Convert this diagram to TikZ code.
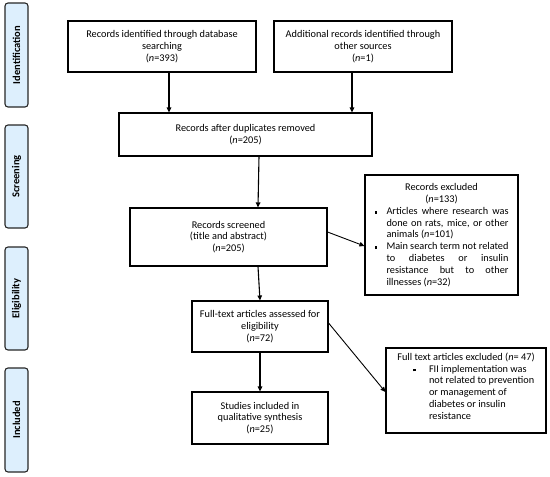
\documentclass[tikz,border=0pt]{standalone}
\usepackage{fontspec}
\setmainfont{Carlito}
\usetikzlibrary{arrows.meta,calc}
\definecolor{phasefill}{HTML}{DDEFFD}
\newcommand{\sqb}{\rule[0.6pt]{2.8pt}{2.8pt}}
\newcommand{\myleftlabel}[1]{#1\hfil}
\begin{document}
\begin{tikzpicture}[x=1pt,y=-1pt,
  every node/.style={font=\fontsize{10.3}{11.8}\selectfont, inner sep=0pt},
  flowbox/.style={draw, line width=1.1pt, rectangle, align=center},
  phase/.style={draw=black!85, line width=1.1pt, fill=phasefill, rounded corners=3pt,
    minimum width=23pt},
  plabel/.style={rotate=90, font=\fontsize{10.5}{11}\selectfont\bfseries},
  arr/.style={line width=1.1pt, -{Triangle[length=5pt,width=4.5pt]}},
  thinarr/.style={line width=0.9pt, -{Triangle[length=5pt,width=4.5pt]}}]
\useasboundingbox (0,0) rectangle (550,477);

% phase boxes
\node[phase, minimum height=104pt] (p1) at (16.5,55) {};
\node[plabel] (p1t) at (p1.center) {Identification};
\node[phase, minimum height=103pt] (p2) at (16.5,176.5) {};
\node[plabel] (p2t) at (p2.center) {Screening};
\node[phase, minimum height=103pt] (p3) at (16.5,298.5) {};
\node[plabel] (p3t) at (p3.center) {Eligibility};
\node[phase, minimum height=104pt] (p4) at (16.5,420) {};
\node[plabel] (p4t) at (p4.center) {Included};

% flow boxes
\node[flowbox, minimum width=188pt, minimum height=51pt] (idb) at (162,46.5)
  {Records identified through database\\searching\\(\textit{n}=393)};
\node[flowbox, minimum width=178pt, minimum height=51pt] (oth) at (363,46.5)
  {Additional records identified through\\other sources\\(\textit{n}=1)};
\node[flowbox, minimum width=253pt, minimum height=43pt] (dup) at (245.5,134.5)
  {Records after duplicates removed\\(\textit{n}=205)};
\node[flowbox, minimum width=197pt, minimum height=58pt] (scr) at (228.5,237)
  {Records screened\\(title and abstract)\\(\textit{n}=205)};
\node[flowbox, minimum width=153pt, minimum height=120pt] (ex1) at (441.5,235)
  {\begin{minipage}{134pt}
   \centering Records excluded\\(\textit{n}=133)\par
   \begin{list}{\sqb}{\leftmargin=12pt\labelwidth=8pt\labelsep=4pt\itemsep=0pt\parsep=0pt\topsep=0pt\partopsep=0pt\let\makelabel\myleftlabel}
   \item Articles where research was\linebreak done on rats, mice, or other\linebreak animals (\textit{n}=101)
   \item Main search term not related\linebreak to diabetes or insulin\linebreak resistance but to other\linebreak illnesses (\textit{n}=32)
   \end{list}
   \end{minipage}};
\node[flowbox, minimum width=136pt, minimum height=51pt] (ft) at (260,326.5)
  {Full-text articles assessed for\\eligibility\\(\textit{n}=72)};
\node[flowbox, minimum width=136pt, minimum height=52pt] (st) at (260,418)
  {Studies included in\\qualitative synthesis\\(\textit{n}=25)};
\node[flowbox, minimum width=160pt, minimum height=85pt] (ex2) at (466,390.5)
  {\begin{minipage}{154pt}
   \centering Full text articles excluded (\textit{n}= 47)\par
   \raggedright
   \begin{list}{\sqb}{\leftmargin=40pt\labelwidth=10pt\labelsep=13pt\itemsep=0pt\parsep=0pt\topsep=0pt\partopsep=0pt}
   \item FII implementation was\\not related to prevention\\or management of\\diabetes or insulin\\resistance
   \end{list}
   \vspace{9pt}
   \end{minipage}};

% connectors
\draw[arr] ([xshift=7pt]idb.south) -- ([xshift=7pt]idb.south |- dup.north);
\draw[arr] ([xshift=-11pt]oth.south) -- ([xshift=-11pt]oth.south |- dup.north);
\draw[arr] ([xshift=13.5pt]dup.south) -- ([xshift=29.5pt]scr.north);
\draw[thinarr] ([yshift=5pt]scr.east) -- ([yshift=-11pt]ex1.west);
\draw[arr] ([xshift=29.5pt]scr.south) -- (ft.north);
\draw[thinarr] ([yshift=3.5pt]ft.east) -- ([yshift=-1.5pt]ex2.west);
\draw[arr] (ft.south) -- (st.north);
\end{tikzpicture}
\end{document}
